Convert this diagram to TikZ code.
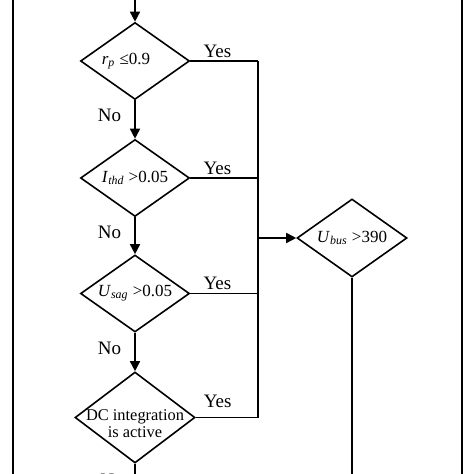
\documentclass[tikz,border=0pt]{standalone}
\usepackage{fontspec}
\setmainfont{Liberation Serif}
\usepackage{tikz}
\usetikzlibrary{calc, shapes.geometric, arrows.meta}

\tikzset{
	dia/.style = {diamond, draw, inner sep = 0pt, minimum width = 54.5pt, minimum height = 38.5pt},
	arr/.style = {-{Triangle[length = 5pt, width = 5pt]}},
	lbl/.style = {inner sep = 1.5pt, font = \fontsize{9.5}{11}\selectfont}
}

\begin{document}
\begin{tikzpicture}[x = 0.5pt, y = -0.5pt, line width = 0.8pt, font = \fontsize{8.5}{10}\selectfont]
			\def\M{135};
			\def\R{258};
			\def\C{352};
			\def\H{474};

			\clip (0,0) rectangle (474,\H);

			% frame
			\draw (13,0) -- (13,\H);
			\draw (462,0) -- (462,\H);

			% decisions
			\node [dia, label = {[xshift = -4.5pt]center:\textit{r}\textsubscript{\textit{p}} ≤0.9}] (rp) at (\M,61) {};
			\node [dia, label = {center:\textit{I}\textsubscript{\textit{thd}} >0.05}] (ithd) at (\M,178) {};
			\node [dia, label = {center:\textit{U}\textsubscript{\textit{sag}} >0.05}] (usag) at (\M,293.5) {};
			\node [dia, minimum width = 60pt, minimum height = 45.5pt, label = {[align = center, yshift = -3pt, font = \fontsize{8.2}{8.6}\selectfont]center:DC integration\\is active}] (dc) at (\M,417.5) {};
			\node [dia, minimum width = 55pt, minimum height = 39pt, label = {center:\textit{U}\textsubscript{\textit{bus}} >390}] (ubus) at (\C,238) {};

			\coordinate (top) at (\M,0);
			\coordinate (y1) at (\R,61);
			\coordinate (y2) at (\R,178);
			\coordinate (y3) at (\R,293.5);
			\coordinate (y4) at (\R,417.5);
			\coordinate (join) at (\R,238);
			\coordinate (bot) at (\M,\H);
			\coordinate (botbus) at (\C,\H);

			% No branch
			\begin{scope}[arr]
				\draw (top) -- (rp);
				\draw (rp) -- (ithd) node [pos = 0.4, left = 5pt, lbl] {No};
				\draw (ithd) -- (usag) node [pos = 0.4, left = 5pt, lbl] {No};
				\draw (usag) -- (dc) node [pos = 0.4, left = 5pt, lbl] {No};
				\draw (join) -- (ubus);
			\end{scope}
			\draw (dc) -- (bot);
			\node [lbl] (nolast) at (112,480) {No};
			\draw (ubus) -- (botbus);

			% Yes branch
			\draw (rp.east) -- (y1) node [pos = 0.4, above, lbl] {Yes};
			\draw (ithd.east) -- (y2) node [pos = 0.4, above, lbl] {Yes};
			\draw (usag.east) -- (y3) node [pos = 0.4, above, lbl] {Yes};
			\draw (dc.east) -- (y4) node [pos = 0.35, above = 3pt, lbl] {Yes};
			\draw (y1) -- (y4);
		\end{tikzpicture}
\end{document}
